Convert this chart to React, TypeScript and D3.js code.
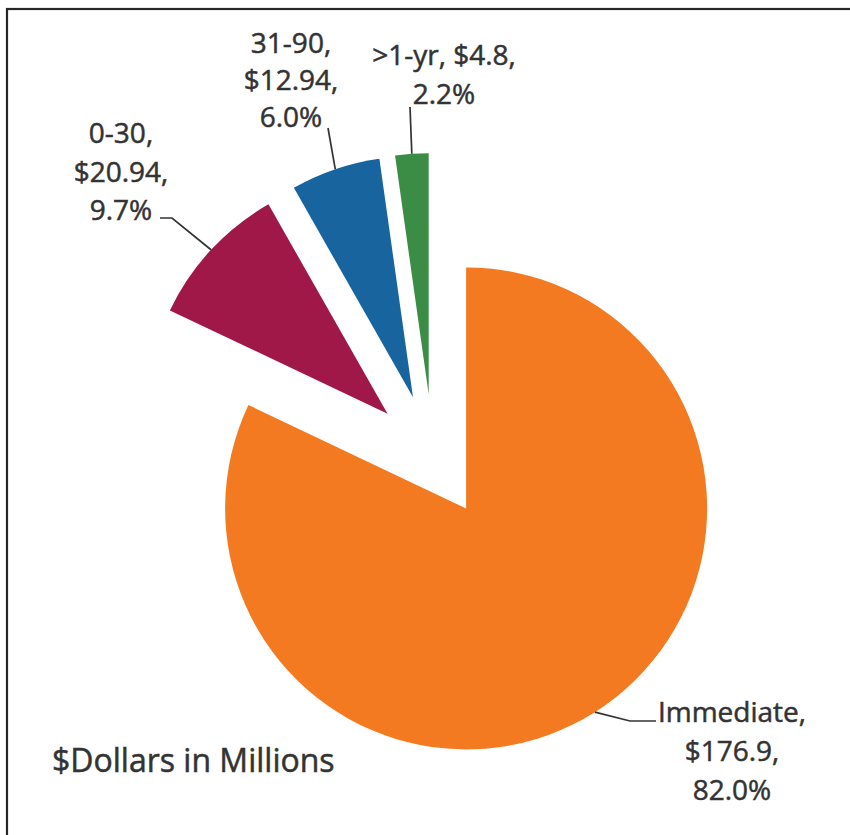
import React from "react";
import * as d3 from "d3";

// ---- data ----
const categories = ["Immediate", "0-30", "31-90", ">1-yr"];
const values = [176.9, 20.94, 12.94, 4.8];
const percents = ["82.0", "9.7", "6.0", "2.2"];
const colors = ["#F47A22", "#A01848", "#17649E", "#3B8C45"];
const title = "$Dollars in Millions";

// ---- layout ----
const W = 850;
const H = 835;
const CX = 433;
const CY = 456;
const R = 241;
const EXPLODE = 62;
const FONT = "'Open Sans', 'Noto Sans', sans-serif";
const TEXT = "#333333";

// label layout: centre x, first baseline, line height, how lines are grouped,
// and the bend points of the leader line (after the slice's edge point)
const labelLayout = [
  { x: 732, y: 722, lh: 39, join: false, leader: [[630, 721], [656, 721]] },
  { x: 121, y: 143, lh: 38.5, join: false, leader: [[172, 218], [160, 218]] },
  { x: 291, y: 53, lh: 37, join: false, leader: [[328, 128]] },
  { x: 444, y: 65, lh: 39, join: true, leader: [[410, 107]] },
];

export default function App() {
  const pie = d3
    .pie<number>()
    .sort(null)
    .value((d) => d)
    .startAngle(0)
    .endAngle(2 * Math.PI);
  const arcs = pie(values);
  const arcGen = d3.arc<d3.PieArcDatum<number>>().innerRadius(0).outerRadius(R);

  return (
    <svg
      width={W}
      height={H}
      style={{ position: "absolute", left: 0, top: 0, display: "block", background: "#fff" }}
    >
      <rect x={7} y={9} width={W + 20} height={H + 20} fill="none" stroke="#262626" strokeWidth={2.2} />
      {arcs.map((a, i) => {
        const mid = (a.startAngle + a.endAngle) / 2;
        const dx = EXPLODE * Math.sin(mid);
        const dy = -EXPLODE * Math.cos(mid);
        return (
          <path
            key={"s" + i}
            d={arcGen(a) || ""}
            fill={colors[i]}
            transform={`translate(${CX + dx},${CY + dy})`}
          />
        );
      })}
      {arcs.map((a, i) => {
        const mid = (a.startAngle + a.endAngle) / 2;
        const ex = CX + (EXPLODE + R) * Math.sin(mid);
        const ey = CY - (EXPLODE + R) * Math.cos(mid);
        const L = labelLayout[i];
        const pts: [number, number][] = [[ex, ey], ...(L.leader as [number, number][])];
        const line = d3.line()(pts) || "";
        return <path key={"l" + i} d={line} fill="none" stroke="#333" strokeWidth={1.7} />;
      })}
      {categories.map((c, i) => {
        const L = labelLayout[i];
        const parts = [`${c},`, `$${values[i]},`, `${percents[i]}%`];
        const lines = L.join ? [`${parts[0]} ${parts[1]}`, parts[2]] : parts;
        return (
          <text
            key={"t" + i}
            x={L.x}
            y={L.y}
            textAnchor="middle"
            fontFamily={FONT}
            fontSize={28}
            fill={TEXT}
            stroke={TEXT}
            strokeWidth={0.5}
          >
            {lines.map((ln, j) => (
              <tspan key={j} x={L.x} y={L.y + j * L.lh}>
                {ln}
              </tspan>
            ))}
          </text>
        );
      })}
      <text x={52} y={772} fontFamily={FONT} fontSize={32} fill={TEXT} stroke={TEXT} strokeWidth={0.5}>
        {title}
      </text>
    </svg>
  );
}
